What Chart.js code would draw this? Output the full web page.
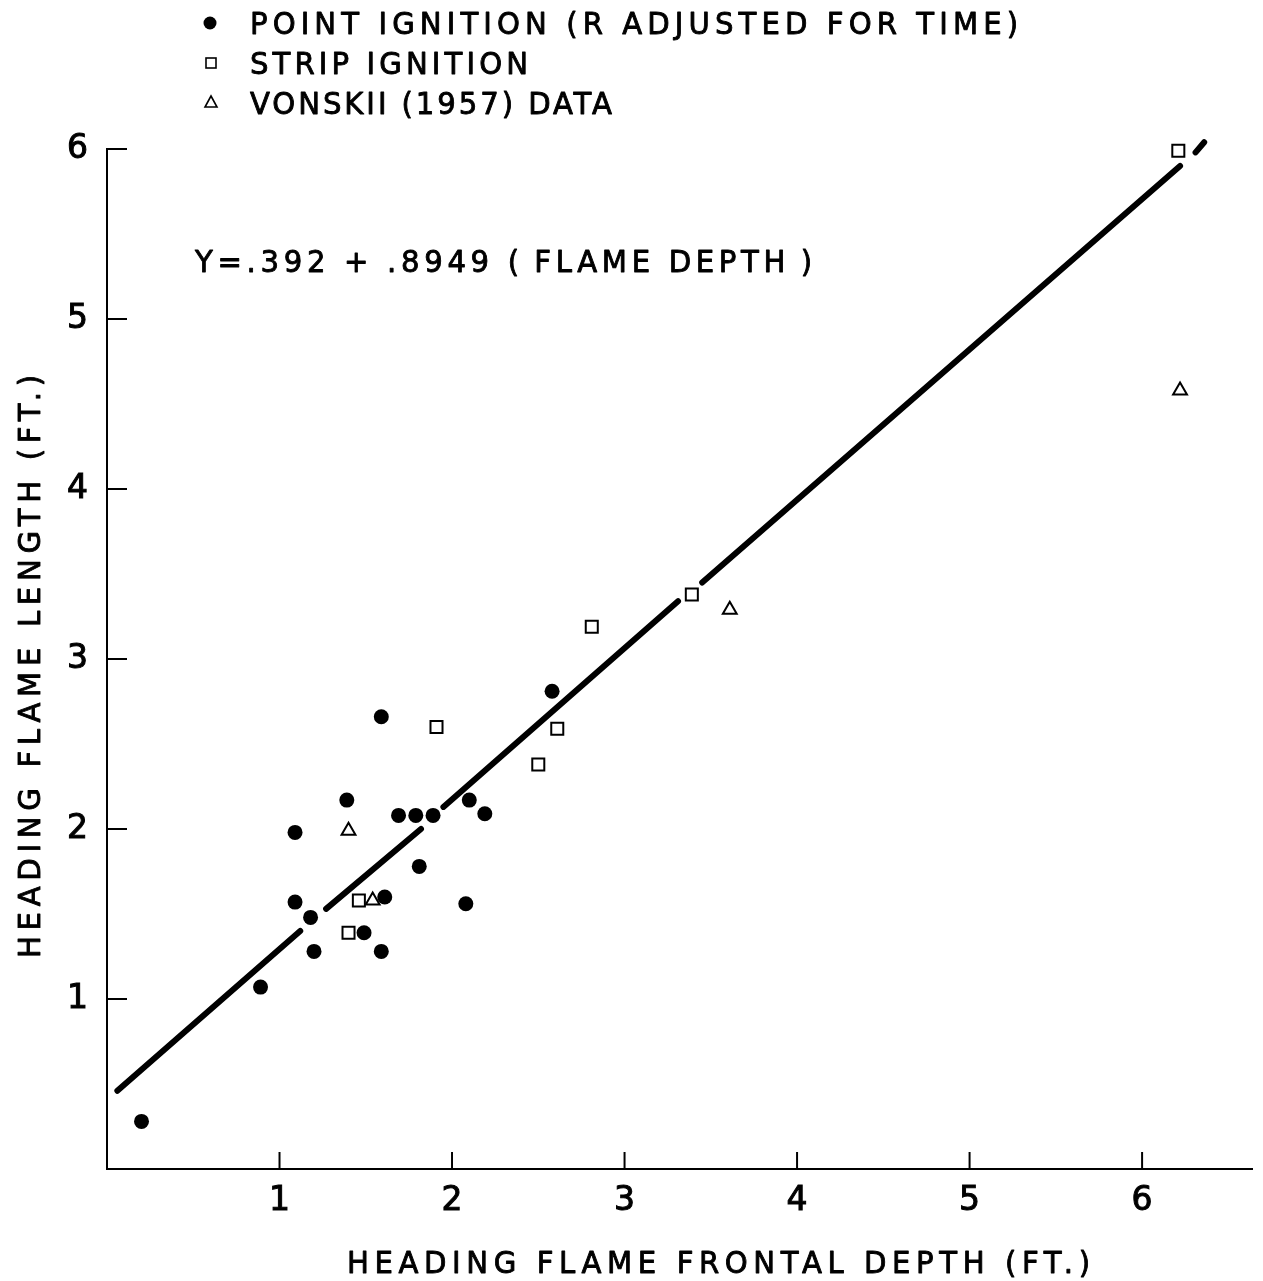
<!DOCTYPE html>
<html>
<head>
<meta charset="utf-8">
<script src="https://cdn.jsdelivr.net/npm/chart.js@4"></script>
<style>
  body { margin: 0; background: #fff; }
  #wrap { width: 1263px; height: 1281px; }
</style>
</head>
<body>
<div id="wrap"><canvas id="flame" width="1263" height="1281"></canvas></div>
<script>
// values (feet)
const pointX = [0.20, 0.89, 1.09, 1.09, 1.18, 1.20, 1.39, 1.49, 1.59, 1.59, 1.61, 1.69, 1.79, 1.89, 1.81, 2.10, 2.08, 2.19, 2.58];
const pointY = [0.28, 1.07, 1.98, 1.57, 1.48, 1.28, 2.17, 1.39, 2.66, 1.28, 1.60, 2.08, 2.08, 2.08, 1.78, 2.17, 1.56, 2.09, 2.81];

const stripX = [1.91, 2.50, 1.46, 1.40, 2.61, 2.81, 3.39, 6.21];
const stripY = [2.60, 2.38, 1.58, 1.39, 2.59, 3.19, 3.38, 5.99];

const vonskiiX = [1.40, 1.54, 3.61, 6.22];
const vonskiiY = [1.99, 1.58, 3.29, 4.58];

// fitted line, drawn in broken pieces as in the original (null = gap)
const fitX = [0.06, 1.12, null, 1.27, 1.82, null, 1.95, 3.31, null, 3.45, 6.22, null, 6.31, 6.36];
const fitY = [0.46, 1.40, null, 1.53, 2.00, null, 2.13, 3.34, null, 3.45, 5.90, null, 5.98, 6.04];

const xTicks = [1, 2, 3, 4, 5, 6];
const yTicks = [1, 2, 3, 4, 5, 6];

const legendLabels = ['POINT IGNITION (R ADJUSTED FOR TIME)', 'STRIP IGNITION', 'VONSKII (1957) DATA'];
const equationText = 'Y=.392 + .8949 (\u2009FLAME DEPTH\u2009)';
const xTitle = 'HEADING FLAME FRONTAL DEPTH (FT.)';
const yTitle = 'HEADING FLAME LENGTH (FT.)';

function pairs( xs, ys )
{
    return xs.map( ( v, i ) => ( { x: v, y: ys[ i ] } ) );
}

const FONT = 'DejaVu Sans';
const FSIZE = 31;
const STRETCH = 0.94;

// draws text starting at x, stretched to a given width via letter spacing
function fitText( ctx, text, x, yMid, width )
{
    ctx.save();
    ctx.font = FSIZE + 'px "' + FONT + '"';
    ctx.letterSpacing = '0px';
    let w0 = ctx.measureText( text ).width;
    let ls = ( width / STRETCH - w0 ) / ( text.length - 1 );
    ctx.letterSpacing = ls + 'px';
    ctx.textAlign = 'left';
    ctx.textBaseline = 'alphabetic';
    ctx.translate( x, yMid + FSIZE * 0.729 / 2 );
    ctx.scale( STRETCH, 1 );
    ctx.lineWidth = 0.9;
    ctx.lineJoin = 'round';
    ctx.fillText( text, 0, 0 );
    ctx.strokeText( text, 0, 0 );
    ctx.restore();
}

const decorations = {
    id: 'decorations',
    afterDraw( chart )
    {
        const { ctx, chartArea, scales } = chart;
        ctx.save();
        ctx.strokeStyle = '#000';
        ctx.fillStyle = '#000';
        ctx.lineWidth = 2;

        // tick marks pointing into the plot
        xTicks.forEach( v =>
        {
            let px = scales.x.getPixelForValue( v );
            ctx.beginPath();
            ctx.moveTo( px, chartArea.bottom );
            ctx.lineTo( px, chartArea.bottom - 17 );
            ctx.stroke();
        } );
        yTicks.forEach( v =>
        {
            let py = scales.y.getPixelForValue( v );
            ctx.beginPath();
            ctx.moveTo( chartArea.left, py );
            ctx.lineTo( chartArea.left + 20, py );
            ctx.stroke();
        } );

        // legend
        ctx.beginPath();
        ctx.arc( 210, 23, 6.5, 0, Math.PI * 2 );
        ctx.fill();
        ctx.lineWidth = 1.6;
        ctx.strokeRect( 206, 58, 10, 10 );
        ctx.beginPath();
        ctx.moveTo( 211, 96 );
        ctx.lineTo( 217, 107 );
        ctx.lineTo( 205, 107 );
        ctx.closePath();
        ctx.stroke();

        fitText( ctx, legendLabels[ 0 ], 250, 23, 768 );
        fitText( ctx, legendLabels[ 1 ], 250, 63, 278 );
        fitText( ctx, legendLabels[ 2 ], 250, 103, 362 );

        fitText( ctx, equationText, 195, 261, 617 );
        fitText( ctx, xTitle, 347, 1262, 743 );

        ctx.translate( 29, 958 );
        ctx.rotate( -Math.PI / 2 );
        fitText( ctx, yTitle, 0, 0, 583 );
        ctx.restore();
    }
};

Chart.defaults.font.family = FONT;
Chart.defaults.color = '#000';

new Chart( document.getElementById( 'flame' ).getContext( '2d' ), {
    type: 'scatter',
    data: {
        datasets: [
            {
                label: legendLabels[ 0 ],
                data: pairs( pointX, pointY ),
                pointStyle: 'circle',
                pointRadius: 7.5,
                backgroundColor: '#000',
                borderColor: '#000',
                borderWidth: 0,
                clip: false
            },
            {
                label: legendLabels[ 1 ],
                data: pairs( stripX, stripY ),
                pointStyle: 'rect',
                pointRadius: 8.5,
                backgroundColor: '#fff',
                borderColor: '#000',
                borderWidth: 2,
                clip: false
            },
            {
                label: legendLabels[ 2 ],
                data: pairs( vonskiiX, vonskiiY ),
                pointStyle: 'triangle',
                pointRadius: 8,
                backgroundColor: '#fff',
                borderColor: '#000',
                borderWidth: 2,
                clip: false
            },
            {
                label: 'fit',
                data: pairs( fitX, fitY ),
                showLine: true,
                spanGaps: false,
                pointRadius: 0,
                borderColor: '#000',
                borderWidth: 6,
                borderCapStyle: 'round',
                clip: false
            }
        ]
    },
    options: {
        responsive: false,
        animation: false,
        events: [],
        layout: {
            padding: { top: 149, right: 9, left: 0, bottom: 0 }
        },
        plugins: {
            legend: { display: false },
            title: { display: false },
            tooltip: { enabled: false }
        },
        scales: {
            x: {
                type: 'linear',
                min: 0,
                max: 6.64,
                afterBuildTicks: function ( scale )
                {
                    scale.ticks = xTicks.map( v => ( { value: v } ) );
                },
                afterFit: function ( scale )
                {
                    scale.height = 112;
                },
                ticks: {
                    font: { size: 33 },
                    padding: 13,
                    maxRotation: 0,
                    textStrokeColor: '#000',
                    textStrokeWidth: 1
                },
                grid: { display: false, drawTicks: false },
                border: { display: true, color: '#000', width: 2 }
            },
            y: {
                type: 'linear',
                min: 0,
                max: 6,
                afterBuildTicks: function ( scale )
                {
                    scale.ticks = yTicks.map( v => ( { value: v } ) );
                },
                afterFit: function ( scale )
                {
                    scale.width = 107;
                },
                ticks: {
                    font: { size: 33 },
                    padding: 19,
                    textStrokeColor: '#000',
                    textStrokeWidth: 1
                },
                grid: { display: false, drawTicks: false },
                border: { display: true, color: '#000', width: 2 }
            }
        }
    },
    plugins: [ decorations ]
} );
</script>
</body>
</html>
